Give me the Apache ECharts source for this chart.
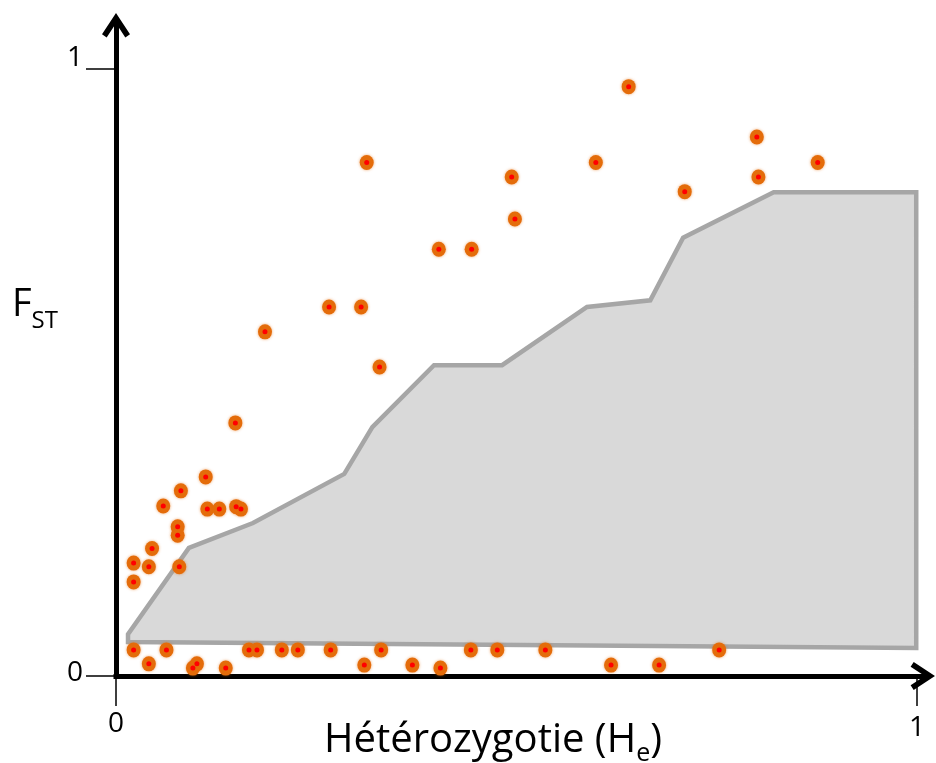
<!DOCTYPE html>
<html>
<head>
<meta charset="utf-8">
<script src="https://cdn.jsdelivr.net/npm/echarts@6/dist/echarts.min.js"></script>
<style>html,body{margin:0;padding:0;background:#fff;}#chart{width:936px;height:763px;}</style>
</head>
<body>
<div id="chart"></div>
<script>
// Scatter points (He, Fst)
const pointsX = [0.149,0.112,0.081,0.059,0.114,0.129,0.150,0.156,0.077,0.077,0.045,0.022,0.041,0.079,0.022,
  0.186,0.313,0.494,0.498,0.403,0.444,0.266,0.306,0.329,0.640,0.599,0.800,0.802,0.876,0.710,
  0.022,0.063,0.166,0.176,0.207,0.227,0.268,0.331,0.443,0.476,0.536,0.753,
  0.041,0.096,0.101,0.137,0.310,0.370,0.405,0.618,0.678];
const pointsY = [0.417,0.328,0.305,0.280,0.275,0.275,0.279,0.275,0.246,0.232,0.210,0.186,0.180,0.180,0.155,
  0.567,0.846,0.822,0.753,0.703,0.703,0.608,0.608,0.509,0.971,0.846,0.888,0.822,0.846,0.798,
  0.043,0.043,0.043,0.043,0.043,0.043,0.043,0.043,0.043,0.043,0.043,0.043,
  0.020,0.013,0.020,0.013,0.018,0.018,0.013,0.018,0.018];
// Neutral envelope polygon
const polyX = [0.015,0.015,0.091,0.171,0.285,0.320,0.397,0.482,0.588,0.667,0.708,0.821,0.999,0.999];
const polyY = [0.056,0.069,0.211,0.252,0.333,0.410,0.512,0.512,0.608,0.619,0.722,0.797,0.797,0.046];
// Tick values
const xTicks = [0, 1];
const yTicks = [0, 1];
const xName = 'Hétérozygotie (H';
const xNameSub = 'e';
const yName = 'F';
const yNameSub = 'ST';

const FONT = '"Open Sans"';
const arrow = 'path://M50 0 L100 76 L83.3 87 L50 36.4 L16.7 87 L0 76 Z';

const chart = echarts.init(document.getElementById('chart'), null, {renderer: 'canvas'});
const pts = pointsX.map((x, i) => [x, pointsY[i]]);

const txt = (size, lh, extra) => Object.assign({fontFamily: FONT, fontSize: size, lineHeight: lh, color: '#000', fontWeight: 'normal'}, extra || {});

chart.setOption({
  backgroundColor: '#fff',
  animation: false,
  title: [
    {
      text: '{f|' + yName + '}{s|' + yNameSub + '}',
      left: 12, top: 286, padding: 0,
      textStyle: {
        fontWeight: 'normal',
        rich: {
          f: txt(38, 44, {verticalAlign: 'top'}),
          s: txt(24, 24, {verticalAlign: 'top', padding: [23, 0, 0, 0]})
        }
      }
    },
    {
      text: '{n|' + xName + '}{s|' + xNameSub + '}{n|)}',
      left: 324, top: 720.5, padding: 0,
      textStyle: {
        fontWeight: 'normal',
        rich: {
          n: txt(40, 44, {verticalAlign: 'top'}),
          s: txt(25, 25, {verticalAlign: 'top', padding: [20.8, 0, 0, 0]})
        }
      }
    }
  ],
  grid: {left: 116, right: 11.2, top: 23.2, bottom: 87, containLabel: false, outerBoundsMode: 'none'},
  xAxis: {
    type: 'value', min: 0, max: 1.0097,
    splitLine: {show: false},
    axisLine: {show: true, onZero: false, symbol: ['none', arrow], symbolSize: [28, 24.4], symbolOffset: [0, -2],
      lineStyle: {color: '#000', width: 5, cap: 'square'}},
    axisTick: {show: true, customValues: xTicks, length: 30, inside: false, lineStyle: {color: '#000', width: 1.5}},
    axisLabel: {
      show: true, customValues: xTicks, margin: 34.5,
      formatter: v => v === 1 ? '{b|1}' : '{a|0}',
      rich: {
        a: txt(28, 28),
        b: txt(28, 28, {padding: [6.5, 0, 0, 0]})
      }
    }
  },
  yAxis: {
    type: 'value', min: 0, max: 1.0755,
    splitLine: {show: false},
    axisLine: {show: true, onZero: false, symbol: ['none', arrow], symbolSize: [28, 24.4], symbolOffset: [0, -2],
      lineStyle: {color: '#000', width: 5, cap: 'square'}},
    axisTick: {show: true, customValues: yTicks, length: 30, inside: false, lineStyle: {color: '#000', width: 1.5}},
    axisLabel: {
      show: true, customValues: yTicks, margin: 33,
      formatter: v => v === 1 ? '{b|1}' : '{a|0}',
      rich: {
        a: txt(28, 28, {padding: [0, 0, 5, 0]}),
        b: txt(28, 28, {padding: [0, 0, 22, 0]})
      }
    }
  },
  series: [
    {
      type: 'custom', coordinateSystem: 'cartesian2d', silent: true, z: 1,
      data: polyX.map((x, i) => [x, polyY[i]]),
      renderItem: (params, api) => {
        if (params.dataIndex !== 0) return null;
        const p = polyX.map((x, i) => api.coord([x, polyY[i]]));
        return {type: 'polygon', shape: {points: p},
          style: {fill: '#d9d9d9', stroke: '#a6a6a6', lineWidth: 4.5, lineJoin: 'miter'}};
      }
    },
    {
      type: 'scatter', data: pts, symbol: 'circle', symbolSize: [14, 15], z: 3, silent: true,
      itemStyle: {color: '#e46c0a', opacity: 1, shadowBlur: 3, shadowColor: 'rgba(228,108,10,0.6)'}
    },
    {
      type: 'scatter', data: pts, symbol: 'circle', symbolSize: 5, z: 4, silent: true,
      itemStyle: {color: '#ff0000', opacity: 1}
    }
  ]
});
</script>
</body>
</html>
